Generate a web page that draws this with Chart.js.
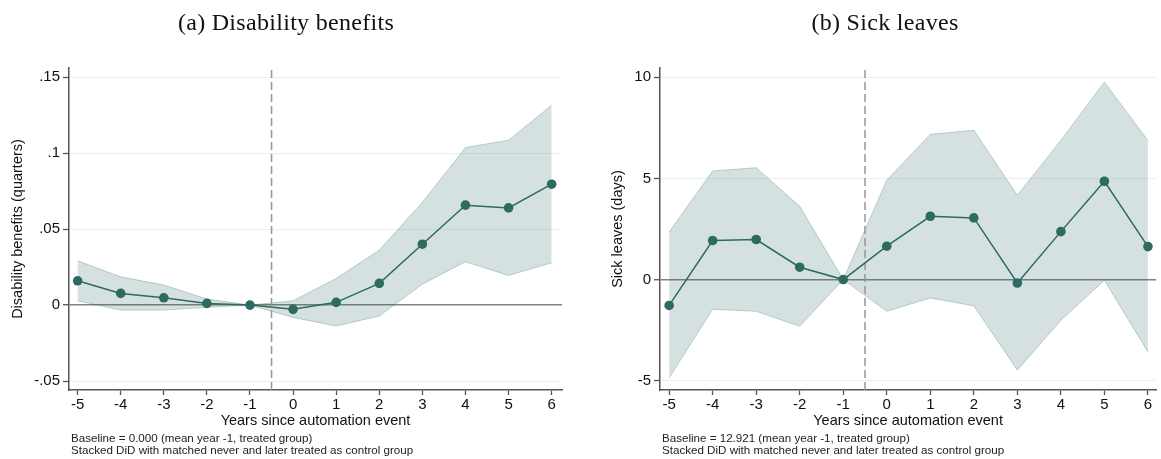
<!DOCTYPE html>
<html>
<head>
<meta charset="utf-8">
<script src="https://cdn.jsdelivr.net/npm/chart.js@4.4.0/dist/chart.umd.min.js"></script>
<style>
  body { margin: 0; background: #fff; }
  #wrap { position: relative; width: 1161px; height: 459px; overflow: hidden; }
  .panel { position: absolute; top: 0; height: 459px; }
  .ttl { position: absolute; top: 9px; font-family: "Liberation Serif", serif; font-size: 24px; letter-spacing: 0.3px; color: #111; white-space: nowrap; transform: translateX(-50%); }
  .note { position: absolute; top: 432px; font-family: "Liberation Sans", Arial, sans-serif; font-size: 11.6px; line-height: 12px; color: #222; white-space: nowrap; }
</style>
</head>
<body>
<div id="wrap">
  <div class="panel" style="left:0;width:580px"><canvas id="chartA"></canvas></div>
  <div class="panel" style="left:580px;width:581px"><canvas id="chartB"></canvas></div>
  <div class="ttl" style="left:286px">(a) Disability benefits</div>
  <div class="ttl" style="left:885px">(b) Sick leaves</div>
  <div class="note" style="left:71px">Baseline = 0.000 (mean year -1, treated group)<br>Stacked DiD with matched never and later treated as control group</div>
  <div class="note" style="left:662px">Baseline = 12.921 (mean year -1, treated group)<br>Stacked DiD with matched never and later treated as control group</div>
</div>
<script>
// event time
var years = [-5, -4, -3, -2, -1, 0, 1, 2, 3, 4, 5, 6];

// (a) disability benefits, quarters
var disEst = [0.016, 0.0077, 0.0048, 0.0011, 0, -0.0028, 0.0018, 0.0143, 0.0401, 0.0658, 0.064, 0.0796];
var disHi  = [0.0292, 0.0186, 0.0132, 0.004, 0, 0.0029, 0.0175, 0.0362, 0.0676, 0.1037, 0.1086, 0.1316];
var disLo  = [0.0029, -0.0033, -0.0033, -0.0015, 0, -0.0081, -0.0138, -0.0072, 0.0138, 0.0285, 0.0195, 0.0278];

// (b) sick leaves, days
var sickEst = [-1.28, 1.93, 1.98, 0.61, 0, 1.65, 3.13, 3.05, -0.17, 2.37, 4.86, 1.63];
var sickHi  = [2.35, 5.37, 5.53, 3.62, 0, 4.91, 7.18, 7.38, 4.17, 6.88, 9.76, 6.88];
var sickLo  = [-4.86, -1.47, -1.57, -2.31, 0, -1.57, -0.91, -1.30, -4.48, -2.01, -0.03, -3.58];

var disTicks = [-0.05, 0, 0.05, 0.1, 0.15];
var sickTicks = [-5, 0, 5, 10];
var eventLine = -0.5;

var teal = 'rgb(45,107,98)';
var band = 'rgba(45,107,98,0.2)';
var bandEdge = 'rgba(45,107,98,0.28)';
var axisCol = 'rgb(85,85,85)';
var sans = '"Liberation Sans", Arial, sans-serif';

function pts(ys) {
	return years.map(function(x, i){ return {x: x, y: ys[i]}; });
}

function fmtDis(v) {
	if (Math.abs(v) < 1e-9) return '0';
	return String(+v.toFixed(2)).replace('0.', '.');
}

function makeChart(id, o) {
	var ctx = document.getElementById(id);
	return new Chart(ctx, {
		type: 'line',
		data: {
			datasets: [
				{ data: pts(o.est), borderColor: teal, backgroundColor: teal, borderWidth: 1.5,
				  pointRadius: 4.8, pointBorderWidth: 0, fill: false, order: 0 },
				{ data: [{x: eventLine, y: o.ymin}, {x: eventLine, y: o.ymax}], borderColor: 'rgb(150,150,150)',
				  borderWidth: 1.5, borderDash: [8, 4], pointRadius: 0, fill: false, order: 1 },
				{ data: pts(o.hi), borderColor: bandEdge, backgroundColor: band, borderWidth: 1,
				  pointRadius: 0, fill: '+1', order: 2 },
				{ data: pts(o.lo), borderColor: bandEdge, backgroundColor: band, borderWidth: 1,
				  pointRadius: 0, fill: false, order: 3 }
			]
		},
		options: {
			responsive: false,
			animation: false,
			layout: { padding: { top: 68, bottom: 19, left: 0, right: o.padRight } },
			plugins: { legend: { display: false }, tooltip: { enabled: false } },
			scales: {
				x: {
					type: 'linear', min: o.xmin, max: o.xmax,
					afterFit: function(s){ s.height = 50; },
					ticks: { stepSize: 1, includeBounds: false, color: '#111', padding: 1,
					         font: { family: sans, size: 15 } },
					grid: { drawOnChartArea: false, drawTicks: true, tickLength: 5, tickColor: axisCol, tickWidth: 1.3 },
					border: { color: axisCol, width: 1.5 },
					title: { display: true, text: 'Years since automation event', color: '#111',
					         padding: { top: 10, bottom: 10 }, font: { family: sans, size: 14.5 } }
				},
				y: {
					min: o.ymin, max: o.ymax,
					afterFit: function(s){ s.width = o.yWidth; },
					afterBuildTicks: function(s){ s.ticks = o.ticks.map(function(v){ return {value: v}; }); },
					ticks: { color: '#111', padding: 3, font: { family: sans, size: 15 }, callback: o.fmt },
					grid: {
						color: function(c){ return Math.abs(c.tick.value) < 1e-9 ? 'rgb(130,130,130)' : 'rgb(232,240,240)'; },
						lineWidth: function(c){ return Math.abs(c.tick.value) < 1e-9 ? 1.5 : 1; },
						tickColor: axisCol, tickLength: 6, tickWidth: 1.3
					},
					border: { color: axisCol, width: 1.5 },
					title: { display: true, text: o.ytitle, color: '#111',
					         padding: { top: o.ytitlePad, bottom: o.ytitlePad }, font: { family: sans, size: 14.5 } }
				}
			}
		}
	});
}

document.getElementById('chartA').width = 580;
document.getElementById('chartA').height = 459;
document.getElementById('chartB').width = 581;
document.getElementById('chartB').height = 459;

makeChart('chartA', {
	est: disEst, hi: disHi, lo: disLo,
	xmin: -5.2, xmax: 6.24, ymin: -0.0559, ymax: 0.1561,
	ticks: disTicks, fmt: fmtDis, ytitle: 'Disability benefits (quarters)',
	yWidth: 69, ytitlePad: 9, padRight: 18
});

makeChart('chartB', {
	est: sickEst, hi: sickHi, lo: sickLo,
	xmin: -5.21, xmax: 6.19, ymin: -5.46, ymax: 10.46,
	ticks: sickTicks, fmt: function(v){ return String(v); }, ytitle: 'Sick leaves (days)',
	yWidth: 80, ytitlePad: 29, padRight: 0
});
</script>
</body>
</html>
